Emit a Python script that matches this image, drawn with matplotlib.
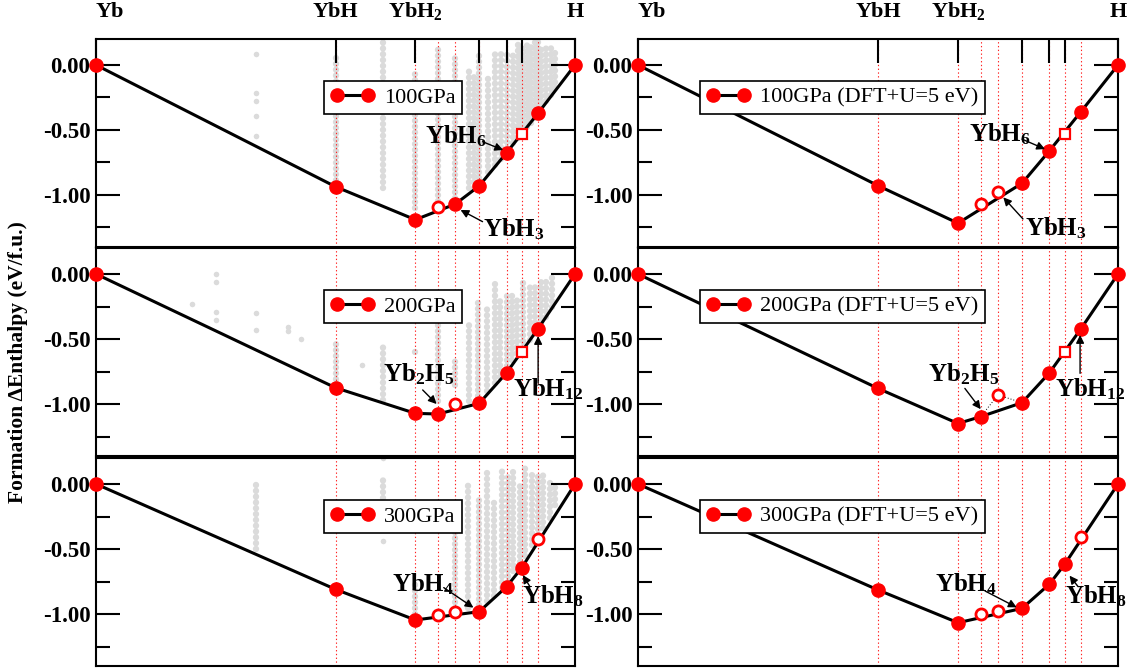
import numpy as np
import matplotlib.pyplot as plt

plt.rcParams['font.family'] = ['Liberation Serif', 'DejaVu Serif']
plt.rcParams['mathtext.fontset'] = 'custom'
plt.rcParams['mathtext.rm'] = 'Liberation Serif'
plt.rcParams['mathtext.bf'] = 'Liberation Serif:bold'
plt.rcParams['mathtext.it'] = 'Liberation Serif:italic'
plt.rcParams['mathtext.default'] = 'bf'

# compositions (fraction of H): Yb, YbH, YbH2, Yb2H5, YbH3, YbH4, YbH6, YbH8, YbH12, H
comp_x = [0, 1/2, 2/3, 5/7, 3/4, 4/5, 6/7, 8/9, 12/13, 1]
top_ticks = [0, 1/2, 2/3, 4/5, 6/7, 8/9, 1]
top_labels = ['Yb', 'YbH', 'YbH$_2$', '', '', '', 'H']

# formation enthalpy (eV/f.u.), kind: F = on hull, o = open circle, s = open square
dh_100 = [0, -0.936, -1.19, -1.09, -1.07, -0.93, -0.675, -0.53, -0.37, 0]
kind_100 = "FFFoFFFsFF"
dh_200 = [0, -0.875, -1.072, -1.077, -1.00, -0.995, -0.76, -0.60, -0.42, 0]
kind_200 = "FFFFoFFsFF"
dh_300 = [0, -0.81, -1.046, -1.008, -0.982, -0.982, -0.79, -0.644, -0.423, 0]
kind_300 = "FFFooFFFoF"
dh_100u = [0, -0.928, -1.217, -1.069, -0.98, -0.91, -0.66, -0.527, -0.358, 0]
kind_100u = "FFFooFFsFF"
dh_200u = [0, -0.88, -1.15, -1.097, -0.93, -0.99, -0.76, -0.60, -0.42, 0]
kind_200u = "FFFFoFFsFF"
dh_300u = [0, -0.815, -1.067, -1.00, -0.977, -0.957, -0.77, -0.618, -0.405, 0]
kind_300u = "FFFooFFFoF"

# sampled structures (grey): columns x, top, bottom + single dots
gray_x_100 = [0.50, 0.60, 0.667, 0.714, 0.75, 0.778, 0.79, 0.80, 0.818, 0.833, 0.846, 0.857,
              0.87, 0.882, 0.889, 0.90, 0.909, 0.917, 0.923, 0.93, 0.94, 0.95, 0.958]
gray_top_100 = [0.07, 0.18, -0.05, 0.14, 0.05, -0.05, -0.07, 0.10, -0.08, 0.10, 0.10, 0.10,
                0.10, 0.18, 0.15, 0.19, 0.18, 0.19, 0.19, 0.15, 0.15, 0.13, 0.13]
gray_bot_100 = [-0.93, -0.95, -1.10, -1.05, -1.02, -0.95, -0.90, -0.87, -0.82, -0.77, -0.72, -0.64,
                -0.60, -0.56, -0.50, -0.48, -0.45, -0.41, -0.36, -0.33, -0.28, -0.23, -0.18]
dots_x_100 = [1/3, 1/3, 1/3, 1/3, 1/3]
dots_y_100 = [0.085, -0.215, -0.28, -0.39, -0.55]

gray_x_200 = [0.50, 0.555, 0.60, 0.667, 0.714, 0.75, 0.778, 0.797, 0.816, 0.833, 0.843, 0.857,
              0.868, 0.879, 0.892, 0.906, 0.917, 0.93, 0.94, 0.952]
gray_top_200 = [-0.50, -0.70, -0.55, -0.56, -0.28, -0.66, -0.35, -0.20, -0.23, -0.05, -0.20, -0.17,
                -0.15, -0.20, -0.07, -0.07, -0.07, -0.02, -0.02, 0.0]
gray_bot_200 = [-0.85, -0.70, -0.97, -0.60, -0.98, -0.85, -0.98, -0.94, -0.90, -0.84, -0.79, -0.71,
                -0.66, -0.61, -0.56, -0.51, -0.46, -0.38, -0.33, -0.25]
dots_x_200 = [0.2, 0.25, 0.25, 0.25, 0.25, 1/3, 1/3, 0.4, 0.4, 3/7]
dots_y_200 = [-0.23, 0.0, -0.06, -0.29, -0.35, -0.30, -0.43, -0.41, -0.44, -0.50]

gray_x_300 = [1/3, 0.60, 0.60, 0.60, 0.667, 0.75, 0.777, 0.80, 0.816, 0.83, 0.847, 0.86, 0.87,
              0.885, 0.895, 0.91, 0.923, 0.934, 0.948, 0.958]
gray_top_300 = [0.03, 0.20, 0.04, -0.44, -0.75, -0.30, -0.01, -0.10, 0.09, -0.11, 0.12, 0.07, 0.12,
                0.02, 0.12, 0.095, 0.07, 0.07, 0.02, -0.01]
gray_bot_300 = [-0.50, 0.20, -0.11, -0.44, -1.00, -0.95, -0.95, -0.93, -0.90, -0.86, -0.80, -0.75, -0.67,
                -0.60, -0.55, -0.47, -0.39, -0.34, -0.26, -0.16]

legend_labels = ['100GPa', '200GPa', '300GPa',
                 '100GPa (DFT+U=5 eV)', '200GPa (DFT+U=5 eV)', '300GPa (DFT+U=5 eV)']

fig = plt.figure(figsize=(11.33, 6.71), dpi=100)
W, H = 1133, 671
col_left = [96, 638]
col_width = [479, 480]
row_top = [39, 248, 458]
row_h = 208
grey = '#dbdbdb'


def draw_panel(ax, dh, kind, label, gx=None, gt=None, gb=None, dx=None, dy=None, leg_x=0.476, top=False):
    ax.set_xlim(0, 1)
    ax.set_ylim(-1.4, 0.2)
    if gx is not None:
        for x, t, b in zip(gx, gt, gb):
            if t == b:
                ax.plot([x], [t], 'o', color=grey, ms=4.0, mew=0, zorder=0.5)
            else:
                ax.plot([x, x], [b, t], color=grey, lw=4.6, ls=(0, (0.01, 0.9)),
                        dash_capstyle='round', zorder=0.5)
    if dx is not None:
        ax.plot(dx, dy, 'o', color=grey, ms=4.0, mew=0, ls='none', zorder=0.5)
    for x in comp_x[1:-1]:
        ax.axvline(x, color='#ff2020', lw=0.8, ls=(0, (1.2, 2.2)), zorder=1)
    hx = [x for x, k in zip(comp_x, kind) if k == 'F']
    hy = [y for y, k in zip(dh, kind) if k == 'F']
    ax.plot(hx, hy, '-', color='k', lw=2.2, marker='o', ms=9.5, mfc='red', mec='red',
            label=label, zorder=3, clip_on=False)
    ox = [x for x, k in zip(comp_x, kind) if k == 'o']
    oy = [y for y, k in zip(dh, kind) if k == 'o']
    ax.plot(ox, oy, 'o', ms=8, mfc='white', mec='red', mew=2, ls='none', zorder=4)
    sx = [x for x, k in zip(comp_x, kind) if k == 's']
    sy = [y for y, k in zip(dh, kind) if k == 's']
    ax.plot(sx, sy, 's', ms=7.5, mfc='white', mec='red', mew=1.6, ls='none', zorder=4)

    leg = ax.legend(loc='upper left', bbox_to_anchor=(leg_x, 0.8), fontsize=16, fancybox=False,
                    edgecolor='k', framealpha=1, handlelength=2.0, numpoints=2, borderaxespad=0,
                    borderpad=0.3, handletextpad=0.4)
    leg.get_frame().set_linewidth(1.2)

    ax.set_yticks([0, -0.5, -1.0])
    ax.set_yticklabels(['0.00', '-0.50', '-1.00'], fontweight='bold')
    ax.set_yticks([-0.25, -0.75, -1.25], minor=True)
    ax.tick_params(axis='y', which='both', direction='in', left=True, right=True,
                   labelsize=16.5, pad=4, width=1.5)
    ax.tick_params(axis='y', which='major', length=17)
    ax.tick_params(axis='y', which='minor', length=10)
    if top:
        ax.xaxis.set_ticks_position('top')
        ax.set_xticks(top_ticks)
        ax.set_xticklabels(top_labels, fontweight='bold')
        ax.tick_params(axis='x', direction='in', length=17, width=1.5, pad=12, labelsize=16)
        ax.get_xticklabels()[0].set_ha('left')
    else:
        ax.tick_params(axis='x', bottom=False, top=False, labelbottom=False, labeltop=False)
    for s in ax.spines.values():
        s.set_linewidth(1.5)


def note(ax, text, txy, tail, tip):
    ax.text(txy[0], txy[1], text, fontsize=18, fontweight='bold', ha='left', va='baseline', zorder=6)
    ax.annotate('', xy=tip, xytext=tail,
                arrowprops=dict(arrowstyle='-|>', color='k', lw=1.0, mutation_scale=12,
                                shrinkA=0, shrinkB=0), zorder=6)


axes = []
for c in range(2):
    for r in range(3):
        ax = fig.add_axes([col_left[c] / W, 1 - (row_top[r] + row_h) / H, col_width[c] / W, row_h / H])
        axes.append(ax)

a1, a2, a3, b1, b2, b3 = axes
draw_panel(a1, dh_100, kind_100, legend_labels[0], gray_x_100, gray_top_100, gray_bot_100,
           dots_x_100, dots_y_100, top=True)
draw_panel(a2, dh_200, kind_200, legend_labels[1], gray_x_200, gray_top_200, gray_bot_200,
           dots_x_200, dots_y_200)
draw_panel(a3, dh_300, kind_300, legend_labels[2], gray_x_300, gray_top_300, gray_bot_300)
draw_panel(b1, dh_100u, kind_100u, legend_labels[3], leg_x=0.129, top=True)
draw_panel(b2, dh_200u, kind_200u, legend_labels[4], leg_x=0.129)
draw_panel(b3, dh_300u, kind_300u, legend_labels[5], leg_x=0.129)

# faint dotted link in the DFT+U 200GPa panel
b2.plot([comp_x[3], comp_x[4], comp_x[5]], [dh_200u[3], dh_200u[4], dh_200u[5]],
        ls=(0, (1, 2)), color='k', lw=0.7, zorder=2)

note(a1, 'YbH$_6$', (0.687, -0.60), (0.807, -0.59), (0.850, -0.654))
note(a1, 'YbH$_3$', (0.807, -1.32), (0.807, -1.205), (0.761, -1.115))
note(a2, 'Yb$_2$H$_5$', (0.60, -0.828), (0.682, -0.892), (0.711, -1.0))
note(a2, 'YbH$_{12}$', (0.871, -0.944), (0.923, -0.84), (0.923, -0.477))
note(a3, 'YbH$_4$', (0.617, -0.828), (0.726, -0.797), (0.788, -0.951))
note(a3, 'YbH$_8$', (0.889, -0.918), (0.906, -0.79), (0.891, -0.70))

note(b1, 'YbH$_6$', (0.690, -0.59), (0.800, -0.57), (0.848, -0.647))
note(b1, 'YbH$_3$', (0.807, -1.31), (0.802, -1.184), (0.761, -1.018))
note(b2, 'Yb$_2$H$_5$', (0.605, -0.828), (0.681, -0.88), (0.714, -1.04))
note(b2, 'YbH$_{12}$', (0.869, -0.944), (0.921, -0.764), (0.921, -0.469))
note(b3, 'YbH$_4$', (0.619, -0.828), (0.723, -0.823), (0.789, -0.949))
note(b3, 'YbH$_8$', (0.890, -0.918), (0.917, -0.79), (0.899, -0.705))

fig.text(18 / W, 1 - 362 / H, 'Formation \u0394Enthalpy (eV/f.u.)', rotation=90, fontsize=15.5,
         fontweight='bold', ha='center', va='center')

fig.savefig('out.png', dpi=100)
